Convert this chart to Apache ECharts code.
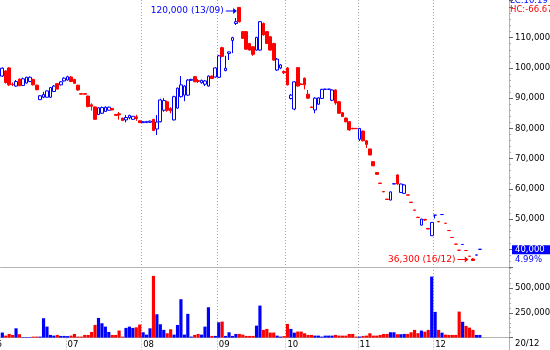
<!DOCTYPE html>
<html>
<head>
<meta charset="utf-8">
<script src="https://cdn.jsdelivr.net/npm/echarts@6/dist/echarts.min.js"></script>
<style>html,body{margin:0;padding:0;background:#fff;overflow:hidden}#c{width:550px;height:350px}</style>
</head>
<body>
<div id="c"></div>
<script>
// ---------- data ----------
const year = 2010;
const tradingDays = [
  ['06', [4,7,8,9,10,11,14,15,16,17,18,21,22,23,24,25,28,29,30]],
  ['07', [1,2,5,6,7,8,9,12,13,14,15,16,19,20,21,22,23,26,27,28,29,30]],
  ['08', [2,3,4,5,6,9,10,11,12,13,16,17,18,19,20,23,24,25,26,27,30,31]],
  ['09', [1,6,7,8,9,10,13,14,15,16,17,20,21,22,23,24,27,28,29,30]],
  ['10', [1,4,5,6,7,8,11,12,13,14,15,18,19,20,21,22,25,26,27,28,29]],
  ['11', [1,2,3,4,5,8,9,10,11,12,15,16,17,18,19,22,23,24,25,26,29,30]],
  ['12', [1,2,3,6,7,8,9,10,13,14,15,16,17,20]]
];
const padDays = ['12', [21,22,23,24,27,28,29,30]]; // empty slots after the last session

const opens = [
  97300,99000,100000,94600,94000,96300,94200,95000,95500,96200,94300,89500,90300,90300,90300,92200,94800,94400,95700,
  96000,97000,96200,94300,91500,91500,90700,87800,87100,84600,85000,85600,86000,86600,84600,84800,83400,82800,83500,83000,83800,82500,
  81900,81900,82000,83000,79800,82200,86000,88800,86600,82800,86700,90500,91000,91000,95900,97100,95800,95100,94600,94000,97300,97000,
  96900,106700,99100,104800,109100,114700,120000,112000,112000,108100,107000,105900,105900,114700,112000,110300,108100,99300,100000,98800,
  100000,89900,86400,100100,94700,96600,91300,87100,86100,88000,89900,92900,92900,89300,92700,88800,85200,83400,82200,80000,80000,
  76400,79100,75900,73200,69000,65400,61900,59100,56600,56300,61600,64600,58800,58500,58000,55600,53000,50600,48000,49900,46900,44500,
  51300,49200,51500,48600,46200,43900,41700,39700,41600,39600,37700,36800,38100,40000
];
const closes = [
  99900,95200,94400,94500,95500,94100,96400,96900,96900,94400,92800,90800,91200,92400,93500,94000,93000,95400,96600,
  97100,95500,94900,92700,91300,91300,87200,87300,83000,86800,86900,87000,87000,86100,84300,84500,82600,83600,84300,84000,83300,81900,
  82200,82300,82400,79300,82100,89400,89200,86000,85800,90500,93300,94400,94000,96000,96200,95400,95500,95900,95700,97300,96500,100000,
  104000,103800,99900,105300,110000,115300,115300,109800,106200,105900,104500,110100,115300,110900,108100,105900,102600,102900,101000,98400,
  94400,91000,95400,94000,94500,94400,90000,86900,90000,90100,92900,93000,93000,92700,88400,85000,83900,82200,79500,79900,79900,
  80000,75900,74700,71200,67600,64800,61800,59000,56500,59000,61700,61600,61600,61300,57900,55500,52900,50500,50000,49700,46700,48900,
  51300,49100,51500,48600,46200,43900,41700,39700,41600,39600,37700,36300,38100,40000
];
const lows = [
  97000,94800,94000,94000,93800,94000,94000,94800,95300,94200,92600,89400,90000,90200,90100,92000,92900,94200,95500,
  95800,95300,94700,92500,91300,91200,87000,85900,82800,84400,84800,85400,85900,86000,84200,82900,82500,82000,83000,82800,82500,81800,
  81800,81800,81800,79100,77800,82000,85500,85500,85000,82600,86500,90200,89000,90800,95700,95300,95000,94800,94000,93800,96300,96800,
  96700,103500,98900,102600,104900,114200,115000,109600,106000,105700,104000,105700,105700,110700,107900,105700,102400,99000,99600,98000,
  94200,89600,86000,93800,94400,92900,89700,86800,85000,87800,89700,92800,92900,89000,87800,84800,83800,82000,79200,79700,79800,
  75800,75700,73500,71100,67500,64700,61800,59000,56500,56200,61600,61400,58700,58400,57900,55500,52900,50400,47900,49400,46700,44400,
  50200,49000,51500,48600,46200,43900,41700,39700,41600,39600,37700,36300,38100,40000
];
const highs = [
  100200,99200,100300,95200,96000,96500,96800,97100,97200,96400,94400,91000,92100,92500,93600,94300,94900,95600,96900,
  97400,97300,96400,94400,91500,91500,90800,88300,87200,87000,87200,87300,87200,86700,84700,85400,83500,84400,84500,84100,84500,82600,
  82400,82400,82600,83100,84400,89800,90000,89200,87000,90800,93500,97300,94300,96300,96400,97300,96300,96100,96000,97500,97500,100200,
  104300,107000,104000,105400,110300,116500,120000,112200,112200,108300,107200,110300,115500,115000,112200,110500,108300,103300,101300,99200,
  100300,91300,95600,100300,94900,96800,92700,87200,90300,90300,93100,93100,93100,92900,92900,89000,85400,83600,82400,80200,80100,
  80100,79300,76100,73300,69100,65500,61900,59100,56600,59100,61700,64800,61700,61500,58000,55600,53000,50700,50100,50000,46900,49000,
  51300,49200,51500,48600,46200,43900,41700,39700,41600,39600,37700,37100,38100,40000
];
const volumes = [
  51000,20000,37000,27000,94000,34000,5000,5000,5000,10000,10000,10000,196000,111000,27000,20000,27000,17000,17000,
  15000,20000,37000,10000,10000,27000,27000,57000,128000,199000,145000,111000,57000,27000,27000,71000,10000,98000,111000,98000,104000,132000,
  54000,30000,94000,624000,236000,135000,78000,44000,84000,30000,128000,388000,30000,240000,10000,27000,37000,30000,111000,307000,17000,17000,
  155000,162000,17000,54000,17000,37000,37000,30000,17000,17000,17000,121000,324000,78000,88000,51000,51000,20000,10000,15000,
  138000,88000,50000,61000,61000,44000,27000,27000,20000,20000,10000,20000,20000,20000,27000,20000,20000,20000,37000,37000,10000,
  10000,17000,20000,44000,20000,20000,27000,37000,37000,54000,54000,34000,34000,37000,37000,54000,78000,45000,71000,60000,78000,617000,
  260000,78000,50000,30000,27000,27000,27000,263000,160000,118000,101000,78000,27000,27000
];
const priceTicks = [40000, 50000, 60000, 70000, 80000, 90000, 100000, 110000];
const volumeTicks = [250000, 500000];

// ---------- build ----------
const BLUE = '#0000ff', RED = '#ff0000', AXIS_C = '#b4b4b4', DOT_C = '#a8a8a8';
const FONT = 'Tahoma, "DejaVu Sans", sans-serif';
const pad2 = d => String(d).padStart(2, '0');
const dates = [];
tradingDays.forEach(([m, days]) => days.forEach(d => dates.push(`${year}-${m}-${pad2(d)}`)));
const n = dates.length;
[opens, closes, lows, highs, volumes].forEach((a, k) => {
  if (a.length !== n) throw new Error('array ' + k + ' has ' + a.length + ' items, expected ' + n);
});
const categories = dates.concat(padDays[1].map(d => `${year}-${padDays[0]}-${pad2(d)}`));

const fmt = v => v.toLocaleString('en-US');
const ddmm = s => s.slice(8, 10) + '/' + s.slice(5, 7);
const sign = i => closes[i] > opens[i] ? 1 : closes[i] < opens[i] ? -1 : (i > 0 && closes[i - 1] <= closes[i] ? 1 : -1);

const candleData = dates.map((_, i) => [opens[i], closes[i], lows[i], highs[i]]);
const volData = volumes.map((v, i) => ({ value: v, itemStyle: { color: sign(i) > 0 ? BLUE : RED } }));

let hiIdx = 0, loIdx = 0;
highs.forEach((h, i) => { if (h > highs[hiIdx]) hiIdx = i; });
lows.forEach((l, i) => { if (l < lows[loIdx]) loIdx = i; });
const last = closes[n - 1], prev = closes[n - 2];
const pct = ((last - prev) / prev * 100).toFixed(2) + '%';
const lc = ((last / lows[loIdx] - 1) * 100).toFixed(2);
const hc = ((last / highs[hiIdx] - 1) * 100).toFixed(2);

const monthStart = idx => idx > 0 && categories[idx].slice(5, 7) !== categories[idx - 1].slice(5, 7);
const ARROW = 'path://M0,4.4L8,4.4L8,1.5L12,5L8,8.5L8,5.6L0,5.6Z';

const chart = echarts.init(document.getElementById('c'), null, { renderer: 'canvas' });
chart.setOption({
  animation: false,
  backgroundColor: '#fff',
  textStyle: { fontFamily: FONT },
  grid: [
    { left: 0.6, right: 41, top: 0, bottom: 83, containLabel: false, outerBoundsMode: 'none' },
    { left: 0.6, right: 41, top: 267, bottom: 12.4, containLabel: false, outerBoundsMode: 'none' }
  ],
  xAxis: [
    {
      type: 'category', gridIndex: 0, data: categories, boundaryGap: true,
      axisLine: { show: true, lineStyle: { color: AXIS_C } },
      axisTick: { show: false }, axisLabel: { show: false },
      splitLine: { show: true, interval: monthStart, showMinLine: false, showMaxLine: false,
                   lineStyle: { color: DOT_C, type: [1, 2], width: 1 } }
    },
    {
      type: 'category', gridIndex: 1, data: categories, boundaryGap: true,
      axisLine: { show: true, lineStyle: { color: AXIS_C } },
      axisTick: { show: true, interval: monthStart, length: 13, lineStyle: { color: DOT_C, type: [1, 2] } },
      axisLabel: { show: true, interval: monthStart, formatter: v => v.slice(5, 7), align: 'left',
                   margin: 3, fontSize: 8.5, color: '#000', fontFamily: FONT },
      splitLine: { show: true, interval: monthStart, showMinLine: false, showMaxLine: false,
                   lineStyle: { color: DOT_C, type: [1, 2], width: 1 } }
    }
  ],
  yAxis: [
    {
      type: 'value', gridIndex: 0, position: 'right', min: 34145, max: 122470, splitNumber: 9,
      splitLine: { show: false },
      axisLine: { show: true, lineStyle: { color: AXIS_C } },
      axisTick: { show: true, length: 4, lineStyle: { color: '#666' } },
      minorTick: { show: true, splitNumber: 5, length: 2, lineStyle: { color: '#aaa' } },
      axisLabel: { margin: 6, fontSize: 8.5, color: '#000', fontFamily: FONT,
                   formatter: v => priceTicks.includes(v) ? fmt(v) : '' }
    },
    {
      type: 'value', gridIndex: 1, position: 'right', min: 0, max: 714000, interval: 250000,
      splitLine: { show: false },
      axisLine: { show: true, lineStyle: { color: AXIS_C } },
      axisTick: { show: true, length: 4, lineStyle: { color: '#666' } },
      minorTick: { show: true, splitNumber: 5, length: 2, lineStyle: { color: '#aaa' } },
      axisLabel: { margin: 6, fontSize: 8.5, color: '#000', fontFamily: FONT,
                   formatter: v => volumeTicks.includes(v) ? fmt(v) : '' }
    }
  ],
  series: [
    {
      type: 'candlestick', xAxisIndex: 0, yAxisIndex: 0, data: candleData, barWidth: 3.2,
      itemStyle: { color: '#fff', color0: RED, borderColor: BLUE, borderColor0: RED, borderWidth: 1 },
      markPoint: {
        silent: true, animation: false, symbol: ARROW, symbolSize: [11, 6],
        data: [
          { coord: [dates[hiIdx], highs[hiIdx]], symbolOffset: [-8, 3.5], itemStyle: { color: BLUE },
            label: { show: true, position: 'left', distance: 2, color: BLUE, fontSize: 9, fontFamily: FONT,
                     formatter: fmt(highs[hiIdx]) + ' (' + ddmm(dates[hiIdx]) + ')' } },
          { coord: [dates[loIdx], lows[loIdx]], symbolOffset: [-10, -1], itemStyle: { color: RED },
            label: { show: true, position: 'left', distance: 2, color: RED, fontSize: 9, fontFamily: FONT,
                     formatter: fmt(lows[loIdx]) + ' (' + ddmm(dates[loIdx]) + ')' } }
        ]
      },
      markLine: {
        silent: true, animation: false, symbol: ['none', 'none'],
        lineStyle: { color: 'transparent', width: 1 },
        data: [
          { yAxis: last,
            label: { show: true, position: 'end', distance: 3, padding: [11, 0, 0, 0],
                     formatter: '{a|' + fmt(last) + '}\n{b|' + pct + '}',
                     rich: {
                       a: { color: '#fff', backgroundColor: BLUE, width: 35, height: 9, lineHeight: 9,
                            padding: [0, 0, 0, 3], fontSize: 8.5, fontFamily: FONT },
                       b: { color: BLUE, lineHeight: 10, height: 10, padding: [0, 0, 0, 3],
                            fontSize: 8.5, fontFamily: FONT }
                     } } }
        ]
      }
    },
    {
      type: 'bar', xAxisIndex: 1, yAxisIndex: 1, data: volData, barCategoryGap: '8%'
    }
  ],
  graphic: [
    { type: 'text', x: 510, y: -4, style: { text: 'LC:' + lc, fill: BLUE, font: '8.5px ' + FONT } },
    { type: 'text', x: 510, y: 5, style: { text: 'HC:' + hc, fill: RED, font: '8.5px ' + FONT } },
    { type: 'text', x: 515, y: 339.5, style: { text: ddmm(dates[n - 1]), fill: '#000', font: '8.5px ' + FONT } },
    { type: 'text', x: -9, y: 340, style: { text: dates[0].slice(5, 7), fill: '#000', font: '8.5px ' + FONT } },
    { type: 'line', shape: { x1: 509.5, y1: 337, x2: 509.5, y2: 350 }, style: { stroke: AXIS_C, lineWidth: 1 } }
  ]
});
</script>
</body>
</html>
